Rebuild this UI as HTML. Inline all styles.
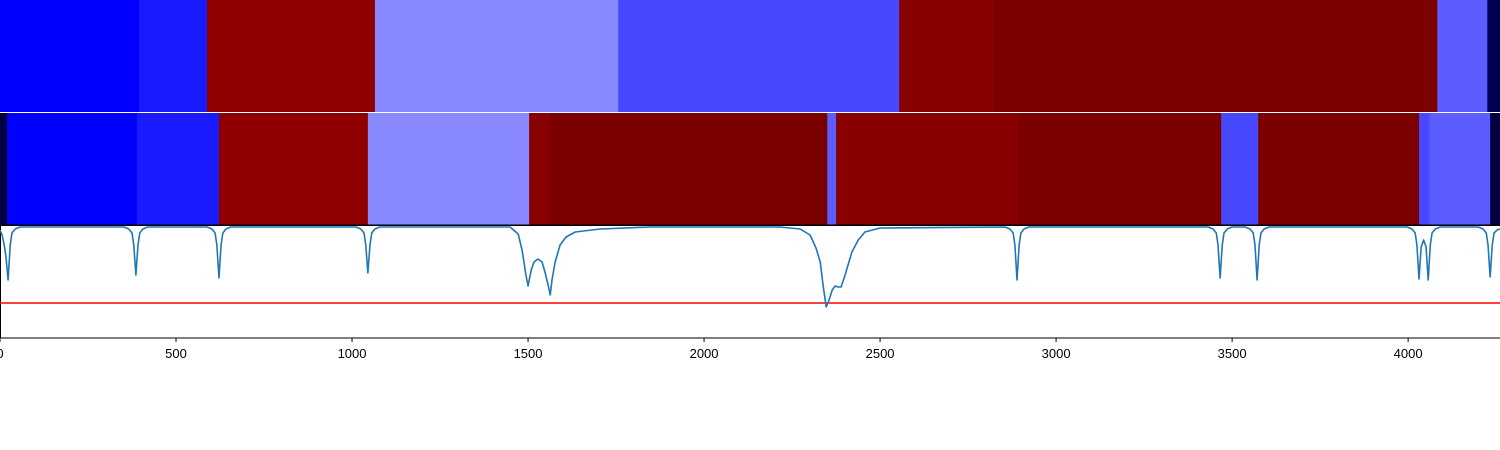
<!DOCTYPE html>
<html><head><meta charset="utf-8">
<style>
html,body{margin:0;padding:0;background:#fff;}
svg{display:block;font-family:"Liberation Sans",sans-serif;}
</style></head>
<body>
<svg id="chart" width="1500" height="450" viewBox="0 0 1500 450" xmlns="http://www.w3.org/2000/svg">
<g id="row1"></g>
<g id="row2"></g>
<g id="plot"></g>
<g id="axis"></g>
</svg>
<script>
const XMAX = 4261;
const row1Starts = [0,395,588,1065,1756,2554,2821,4083,4225];
const row1Colors = ["#0000ff","#1a1aff","#910000","#8888ff","#4848ff","#880000","#7d0000","#5c5cff","#000050"];
const row2Starts = [0,20,389,622,1045,1503,1563,2350,2375,2892,3469,3574,4031,4060,4233];
const row2Colors = ["#000040","#0000ff","#1a1aff","#910000","#8888ff","#880000","#7a0000","#5c5cff","#880000","#7d0000","#4848ff","#7d0000","#4848ff","#5c5cff","#000040"];
const lineX = [0,6,12,17,23,29,34,43,57,
 352,366,375,380,386,392,397,406,420,
 588,602,611,616,622,628,633,642,656,
 1011,1025,1034,1039,1045,1051,1056,1065,1079,
 1449,1472,1483,1494,1500,1509,1517,1528,1540,1548,1557,1563,1568,1577,1591,1608,1634,1705,1847,
 2216,2273,2301,2318,2330,2338,2347,2355,2364,2372,2381,2389,2398,2409,2420,2438,2457,2500,
 2855,2869,2878,2883,2889,2895,2900,2909,2923,
 3432,3446,3455,3460,3466,3472,3477,3486,3500,
 3537,3551,3560,3565,3571,3577,3582,3591,3605,
 3997,4011,4020,4025,4031,4037,4044,4051,4057,4063,4068,4077,4091,
 4199,4213,4222,4227,4233,4239,4244,4253,4261];
const lineY = [0.03,0.08,0.18,0.30,0.53,0.18,0.06,0.02,0.0,
 0.0,0.02,0.06,0.18,0.48,0.18,0.06,0.02,0.0,
 0.0,0.02,0.06,0.18,0.51,0.18,0.06,0.02,0.0,
 0.0,0.02,0.06,0.18,0.46,0.18,0.06,0.02,0.0,
 0.0,0.07,0.23,0.48,0.59,0.43,0.35,0.32,0.35,0.45,0.58,0.68,0.53,0.35,0.18,0.10,0.05,0.02,0.0,
 0.0,0.02,0.08,0.21,0.35,0.58,0.80,0.73,0.63,0.59,0.60,0.60,0.51,0.38,0.25,0.13,0.05,0.01,
 0.0,0.02,0.06,0.18,0.53,0.18,0.06,0.02,0.0,
 0.0,0.02,0.06,0.18,0.51,0.18,0.06,0.02,0.0,
 0.0,0.02,0.06,0.18,0.53,0.18,0.06,0.02,0.0,
 0.0,0.02,0.06,0.18,0.52,0.20,0.13,0.20,0.53,0.18,0.06,0.02,0.0,
 0.0,0.02,0.06,0.18,0.50,0.18,0.06,0.03,0.02];
const threshold = [0.76];
const tickValues = [0,500,1000,1500,2000,2500,3000,3500,4000];
const tickLabels = ["0","500","1000","1500","2000","2500","3000","3500","4000"];

const NS = "http://www.w3.org/2000/svg";
const xs = v => v / XMAX * 1500;
const ys = v => 227 + v * 100;
function mk(tag, attrs, parent){const e=document.createElementNS(NS,tag);for(const k in attrs)e.setAttribute(k,attrs[k]);parent.appendChild(e);return e;}

function drawBand(gid, starts, colors, y0, h, name){
  const g=document.getElementById(gid);
  starts.forEach((s,i)=>{
    const end = i+1<starts.length?starts[i+1]:XMAX;
    const r=mk("rect",{x:xs(s),y:y0,width:xs(end)-xs(s)+0.5,height:h,fill:colors[i]},g);
    
    
  });
}
drawBand("row1",row1Starts,row1Colors,0,112,"top-band");
drawBand("row2",row2Starts,row2Colors,113,112,"middle-band");

const plot=document.getElementById("plot");
const frame=mk("rect",{x:0.5,y:225.5,width:1500,height:112.5,fill:"none",stroke:"#000","stroke-width":1},plot);


const th=mk("line",{x1:0,x2:1500,y1:ys(threshold[0]),y2:ys(threshold[0]),stroke:"#ff0000","stroke-width":1.5},plot);


const d=lineX.map((x,i)=>(i?"L":"M")+xs(x).toFixed(2)+","+ys(lineY[i]).toFixed(2)).join(" ");
const ln=mk("path",{d:d,fill:"none",stroke:"#1f77b4","stroke-width":1.6,"stroke-linejoin":"round"},plot);


mk("line",{x1:0,x2:1500,y1:225,y2:225,stroke:"#000","stroke-width":1},plot);

const ax=document.getElementById("axis");
tickValues.forEach((v,i)=>{
  const x=xs(v);
  const t=mk("line",{x1:x,x2:x,y1:338,y2:342,stroke:"#000","stroke-width":1},ax);
  
  
  const tx=mk("text",{x:x,y:358,"text-anchor":"middle","font-size":13,fill:"#000"},ax);
  tx.textContent=tickLabels[i];
  
  
});
</script>
</body></html>
